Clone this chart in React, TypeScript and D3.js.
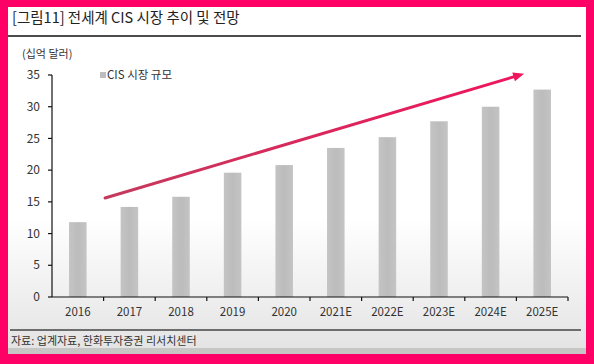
import React from "react";
import * as d3 from "d3";

const years = ["2016", "2017", "2018", "2019", "2020", "2021E", "2022E", "2023E", "2024E", "2025E"];
const marketSize = [11.8, 14.2, 15.8, 19.6, 20.8, 23.5, 25.2, 27.7, 30.0, 32.7];
const yTicks = [0, 5, 10, 15, 20, 25, 30, 35];
// trend arrow: from 2017 at ~15.6 to 2025E at ~35.2
const arrowFrom = { year: "2017", value: 15.6 };
const arrowTo = { year: "2025E", value: 35.2 };

const W = 594;
const H = 364;
const FONT = "'Noto Sans CJK KR', 'Noto Sans', sans-serif";

export default function App() {
  const margin = { left: 52, right: 26, top: 75, bottom: 67 };
  const x = d3.scaleBand<string>().domain(years).range([margin.left, W - margin.right]).paddingInner(0.66).paddingOuter(0.33);
  const xb = d3.scaleBand<string>().domain(years).range([margin.left, W - margin.right]);
  const y = d3.scaleLinear().domain([0, 35]).range([H - margin.bottom, margin.top]);

  const ax1 = xb(arrowFrom.year)! + 1.5;
  const ay1 = y(arrowFrom.value);
  const ax2 = xb(arrowTo.year)! + xb.bandwidth() * 0.15;
  const ay2 = y(arrowTo.value);

  return (
    <svg width={W} height={H} style={{ position: "absolute", left: 0, top: 0 }} fontFamily={FONT}>
      <defs>
        <linearGradient id="bg" x1="0" y1="0" x2="0" y2="1">
          <stop offset="0" stopColor="#ffffff" />
          <stop offset="0.62" stopColor="#ffffff" />
          <stop offset="1" stopColor="#e4e4e4" />
        </linearGradient>
        <linearGradient id="arrowGrad" gradientUnits="userSpaceOnUse" x1={ax1} y1={ay1} x2={ax2} y2={ay2}>
          <stop offset="0" stopColor="#c43a5c" />
          <stop offset="1" stopColor="#f0145c" />
        </linearGradient>
        <linearGradient id="barGrad" x1="0" y1="0" x2="1" y2="0">
          <stop offset="0" stopColor="#c4c4c4" />
          <stop offset="0.5" stopColor="#bcbcbc" />
          <stop offset="1" stopColor="#c4c4c4" />
        </linearGradient>
      </defs>
      <rect width={W} height={H} fill="#ff0066" />
      <rect x={8} y={7} width={578} height={341} fill="url(#bg)" />
      <rect x={8} y={348} width={578} height={6} fill="#c6c6c4" />

      <text x={12} y={23} fontSize={14.5} fill="#222">[그림11]  전세계 CIS 시장 추이 및 전망</text>
      <line x1={8} x2={581} y1={36} y2={36} stroke="#111" strokeWidth={1.6} />

      <text x={22} y={58} fontSize={11} fill="#333">(십억  달러)</text>

      {/* legend */}
      <rect x={100} y={72} width={6} height={6} fill="#bdbdbd" />
      <text x={107} y={79} fontSize={11.5} fill="#333">CIS 시장 규모</text>

      {/* bars */}
      {years.map((yr, i) => (
        <rect key={yr} x={x(yr)} y={y(marketSize[i])} width={x.bandwidth()} height={y(0) - y(marketSize[i])} fill="url(#barGrad)" />
      ))}

      {/* y axis */}
      <line x1={margin.left} x2={margin.left} y1={y(35)} y2={y(0)} stroke="#111" strokeWidth={1.2} />
      {yTicks.map((t) => (
        <g key={t}>
          <line x1={margin.left - 4} x2={margin.left} y1={y(t)} y2={y(t)} stroke="#111" strokeWidth={1.2} />
          <text x={40} y={y(t)} dy="0.35em" textAnchor="end" fontSize={12} fill="#333">{t}</text>
        </g>
      ))}

      {/* x axis */}
      <line x1={margin.left} x2={W - margin.right} y1={y(0)} y2={y(0)} stroke="#111" strokeWidth={1.2} />
      {years.map((yr) => (
        <g key={yr}>
          <line x1={xb(yr)! + xb.bandwidth()} x2={xb(yr)! + xb.bandwidth()} y1={y(0)} y2={y(0) + 4} stroke="#111" strokeWidth={1.2} />
          <text x={xb(yr)! + xb.bandwidth() / 2} y={y(0) + 19} textAnchor="middle" fontSize={11.5} fill="#333">{yr}</text>
        </g>
      ))}

      {/* trend arrow */}
      <line x1={ax1} y1={ay1} x2={ax2 - 8} y2={ay2 + 2.4} stroke="url(#arrowGrad)" strokeWidth={3} strokeLinecap="round" />
      {(() => {
        const ang = Math.atan2(ay2 - ay1, ax2 - ax1);
        const len = 11;
        const half = 4.5;
        const bx = ax2 - len * Math.cos(ang);
        const by = ay2 - len * Math.sin(ang);
        const px = -Math.sin(ang) * half;
        const py = Math.cos(ang) * half;
        return <path d={`M${ax2},${ay2}L${bx + px},${by + py}L${bx - px},${by - py}Z`} fill="#f0145c" />;
      })()}

      <line x1={10} x2={581} y1={330} y2={330} stroke="#444" strokeWidth={1.6} />
      <text x={11} y={345} fontSize={11} fill="#333">자료: 업계자료, 한화투자증권 리서치센터</text>
    </svg>
  );
}
